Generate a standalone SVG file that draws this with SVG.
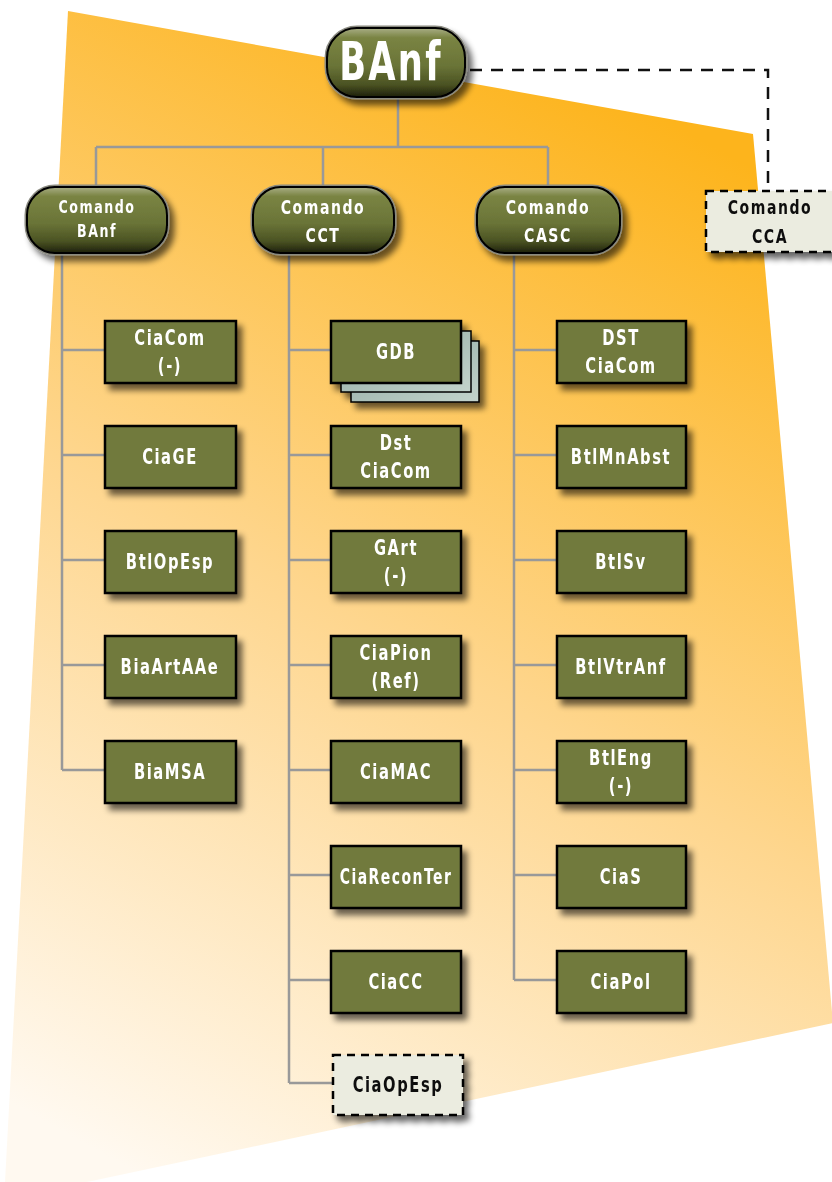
<svg xmlns="http://www.w3.org/2000/svg" width="832" height="1182" viewBox="0 0 832 1182">
<defs>
<linearGradient id="bg" gradientUnits="userSpaceOnUse" x1="150" y1="1180" x2="720" y2="150">
<stop offset="0" stop-color="#fff9f0"/>
<stop offset="0.5" stop-color="#fed68e"/>
<stop offset="1" stop-color="#fdb41c"/>
</linearGradient>
<linearGradient id="pill" x1="0" y1="0" x2="0" y2="1">
<stop offset="0" stop-color="#a9ae86"/>
<stop offset="0.14" stop-color="#7a8443"/>
<stop offset="0.55" stop-color="#6a7437"/>
<stop offset="0.82" stop-color="#4b5323"/>
<stop offset="1" stop-color="#1e200b"/>
</linearGradient>
<linearGradient id="stack" x1="0" y1="0" x2="1" y2="1">
<stop offset="0" stop-color="#8fa8a0"/>
<stop offset="1" stop-color="#c3d3cc"/>
</linearGradient>
<filter id="sh" x="-20%" y="-20%" width="150%" height="160%">
<feGaussianBlur in="SourceAlpha" stdDeviation="3"/>
<feOffset dx="5" dy="6" result="b"/>
<feComponentTransfer><feFuncA type="linear" slope="0.6"/></feComponentTransfer>
<feMerge><feMergeNode/><feMergeNode in="SourceGraphic"/></feMerge>
</filter>
</defs>
<style>
.box{fill:#717a3d;stroke:#000;stroke-width:2.5}
.dbox{fill:#ebece0;stroke:#000;stroke-width:2.5;stroke-dasharray:8 6}
.pl{fill:url(#pill);stroke:#000;stroke-width:2}
.plo{fill:none;stroke:#8a8a80;stroke-width:5}
.st{fill:url(#stack);stroke:#000;stroke-width:1.5}
.t{font-family:"DejaVu Sans Condensed","DejaVu Sans",sans-serif;font-stretch:condensed;font-weight:bold;font-size:21px;fill:#fff;text-anchor:middle;letter-spacing:2px}
.tp{font-size:20px}
.ts{font-size:18px}
.tk{fill:#111}
.big{font-size:53px;letter-spacing:3px}
.ln{fill:none;stroke:#999;stroke-width:2.5}
.dl{fill:none;stroke:#111;stroke-width:2.5;stroke-dasharray:12 9}
</style>
<polygon points="68,11 753,134 833,1023 87,1182 5,1182" fill="url(#bg)"/>
<g id="connectors">
<path class="ln" d="M398,97V147M96,147H548M96,147V187M323,147V187M548,147V187"/>
<path class="ln" d="M62,253V770M62,350H105M62,455H105M62,560H105M62,665H105M62,770H105"/>
<path class="ln" d="M289,253V1083M289,350H331M289,455H331M289,560H331M289,665H331M289,770H331M289,875H331M289,980H331M289,1083H333"/>
<path class="ln" d="M514,253V980M514,350H557M514,455H557M514,560H557M514,665H557M514,770H557M514,875H557M514,980H557"/>
<path class="dl" d="M470,70H768V191"/>
</g>
<g id="n-banf" filter="url(#sh)">
<rect class="plo" x="327" y="28" width="138" height="69" rx="30"/>
<rect class="pl" x="327" y="28" width="138" height="69" rx="30"/>
<text class="t big" transform="translate(391 80) scale(0.74 1)">BAnf</text>
</g>
<g id="n-cmd-banf" filter="url(#sh)">
<rect class="plo" x="27" y="187" width="140" height="66" rx="28"/>
<rect class="pl" x="27" y="187" width="140" height="66" rx="28"/>
<text class="t ts" transform="translate(97 213) scale(0.78 1)">Comando</text>
<text class="t ts" transform="translate(97 237) scale(0.78 1)">BAnf</text>
</g>
<g id="n-cmd-cct" filter="url(#sh)">
<rect class="plo" x="253" y="187" width="141" height="66" rx="28"/>
<rect class="pl" x="253" y="187" width="141" height="66" rx="28"/>
<text class="t tp" transform="translate(323 214) scale(0.78 1)">Comando</text>
<text class="t tp" transform="translate(323 242) scale(0.78 1)">CCT</text>
</g>
<g id="n-cmd-casc" filter="url(#sh)">
<rect class="plo" x="477" y="187" width="143" height="66" rx="28"/>
<rect class="pl" x="477" y="187" width="143" height="66" rx="28"/>
<text class="t tp" transform="translate(548 214) scale(0.78 1)">Comando</text>
<text class="t tp" transform="translate(548 242) scale(0.78 1)">CASC</text>
</g>
<g id="n-cmd-cca" filter="url(#sh)">
<rect class="dbox" x="706" y="191" width="130" height="61"/>
<text class="t tp tk" transform="translate(770 214) scale(0.78 1)">Comando</text>
<text class="t tp tk" transform="translate(770 243) scale(0.78 1)">CCA</text>
</g>
<g id="n-ciacom1" filter="url(#sh)"><rect class="box" x="105" y="321" width="131" height="62"/><text class="t" transform="translate(170 345) scale(0.78 1)">CiaCom</text><text class="t" transform="translate(170 373) scale(0.78 1)">(-)</text></g>
<g id="n-ciage" filter="url(#sh)"><rect class="box" x="105" y="426" width="131" height="62"/><text class="t" transform="translate(170 464) scale(0.78 1)">CiaGE</text></g>
<g id="n-btlopesp" filter="url(#sh)"><rect class="box" x="105" y="531" width="131" height="62"/><text class="t" transform="translate(170 569) scale(0.78 1)">BtlOpEsp</text></g>
<g id="n-biaartaae" filter="url(#sh)"><rect class="box" x="105" y="636" width="131" height="62"/><text class="t" transform="translate(170 674) scale(0.78 1)">BiaArtAAe</text></g>
<g id="n-biamsa" filter="url(#sh)"><rect class="box" x="105" y="741" width="131" height="62"/><text class="t" transform="translate(170 779) scale(0.78 1)">BiaMSA</text></g>
<g id="n-gdb" filter="url(#sh)">
<rect class="st" x="351" y="341" width="128" height="61"/>
<rect class="st" x="341" y="331" width="130" height="61"/>
<rect class="box" x="331" y="321" width="130" height="62"/><text class="t" transform="translate(396 359) scale(0.78 1)">GDB</text></g>
<g id="n-dstciacom" filter="url(#sh)"><rect class="box" x="331" y="426" width="130" height="62"/><text class="t" transform="translate(396 450) scale(0.78 1)">Dst</text><text class="t" transform="translate(396 478) scale(0.78 1)">CiaCom</text></g>
<g id="n-gart" filter="url(#sh)"><rect class="box" x="331" y="531" width="130" height="62"/><text class="t" transform="translate(396 555) scale(0.78 1)">GArt</text><text class="t" transform="translate(396 583) scale(0.78 1)">(-)</text></g>
<g id="n-ciapion" filter="url(#sh)"><rect class="box" x="331" y="636" width="130" height="62"/><text class="t" transform="translate(396 660) scale(0.78 1)">CiaPion</text><text class="t" transform="translate(396 688) scale(0.78 1)">(Ref)</text></g>
<g id="n-ciamac" filter="url(#sh)"><rect class="box" x="331" y="741" width="130" height="62"/><text class="t" transform="translate(396 779) scale(0.78 1)">CiaMAC</text></g>
<g id="n-ciareconter" filter="url(#sh)"><rect class="box" x="331" y="846" width="130" height="62"/><text class="t" transform="translate(396 884) scale(0.74 1)">CiaReconTer</text></g>
<g id="n-ciacc" filter="url(#sh)"><rect class="box" x="331" y="951" width="130" height="62"/><text class="t" transform="translate(396 989) scale(0.78 1)">CiaCC</text></g>
<g id="n-ciaopesp" filter="url(#sh)"><rect class="dbox" x="333" y="1055" width="130" height="60"/><text class="t tk" transform="translate(398 1092) scale(0.78 1)">CiaOpEsp</text></g>
<g id="n-dstciacom3" filter="url(#sh)"><rect class="box" x="557" y="321" width="129" height="62"/><text class="t" transform="translate(621 345) scale(0.78 1)">DST</text><text class="t" transform="translate(621 373) scale(0.78 1)">CiaCom</text></g>
<g id="n-btlmnabst" filter="url(#sh)"><rect class="box" x="557" y="426" width="129" height="62"/><text class="t" transform="translate(621 464) scale(0.78 1)">BtlMnAbst</text></g>
<g id="n-btlsv" filter="url(#sh)"><rect class="box" x="557" y="531" width="129" height="62"/><text class="t" transform="translate(621 569) scale(0.78 1)">BtlSv</text></g>
<g id="n-btlvtranf" filter="url(#sh)"><rect class="box" x="557" y="636" width="129" height="62"/><text class="t" transform="translate(621 674) scale(0.78 1)">BtlVtrAnf</text></g>
<g id="n-btleng" filter="url(#sh)"><rect class="box" x="557" y="741" width="129" height="62"/><text class="t" transform="translate(621 765) scale(0.78 1)">BtlEng</text><text class="t" transform="translate(621 793) scale(0.78 1)">(-)</text></g>
<g id="n-cias" filter="url(#sh)"><rect class="box" x="557" y="846" width="129" height="62"/><text class="t" transform="translate(621 884) scale(0.78 1)">CiaS</text></g>
<g id="n-ciapol" filter="url(#sh)"><rect class="box" x="557" y="951" width="129" height="62"/><text class="t" transform="translate(621 989) scale(0.78 1)">CiaPol</text></g>
</svg>
